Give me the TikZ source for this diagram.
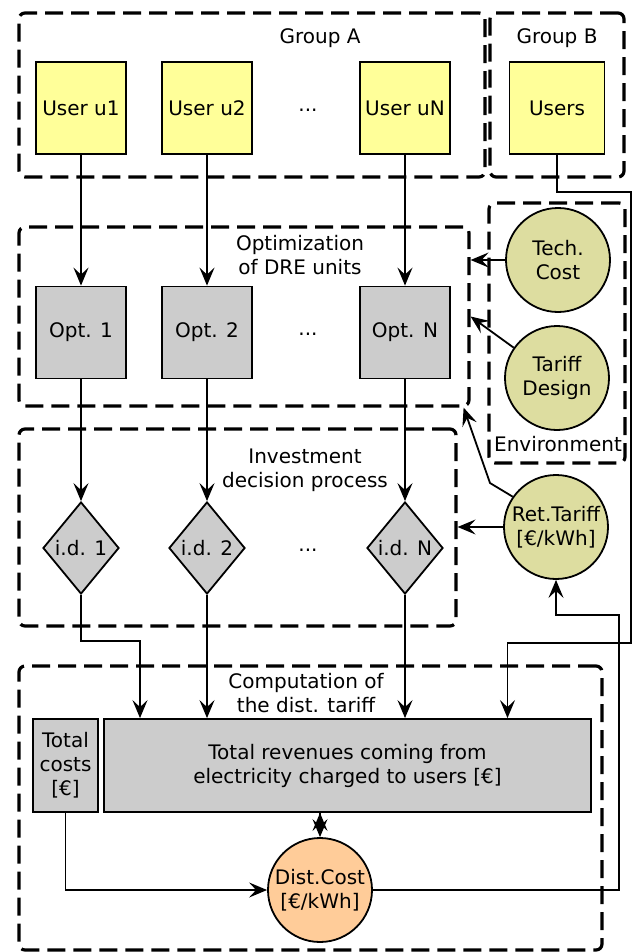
\documentclass[tikz,border=0pt]{standalone}
\usepackage{fontspec}
\setmainfont{DejaVu Sans}
\usetikzlibrary{shapes, arrows.meta, positioning}
\definecolor{useryellow}{RGB}{255,255,153}
\definecolor{optgray}{RGB}{204,204,204}
\definecolor{envolive}{RGB}{221,221,160}
\definecolor{costorange}{RGB}{255,204,153}

\begin{document}
\begin{tikzpicture}[x=1pt, y=-1pt, line width=1.8pt, >={Stealth[length=18pt, width=15pt, inset=7pt]},
        every node/.style={font=\fontsize{20}{24}\selectfont, align=center},
        groupbox/.style={rectangle, draw, line width=3.2pt, dash pattern=on 18pt off 8pt, rounded corners=6pt},
        userbox/.style={rectangle, draw, fill=useryellow, minimum width=90, minimum height=92},
        optbox/.style={rectangle, draw, fill=optgray, minimum width=90, minimum height=92},
        decbox/.style={diamond, draw, fill=optgray, minimum width=76, minimum height=92, inner sep=0pt},
        envcircle/.style={circle, draw, fill=envolive, minimum size=104, inner sep=0pt}]
        \useasboundingbox (0,0) rectangle (634,952);

        % containers
        \node at (252,95) [groupbox, minimum width=466, minimum height=164] (groupA) {};
        \node at (557,95) [groupbox, minimum width=134, minimum height=164] (groupB) {};
        \node at (244,316.5) [groupbox, minimum width=450, minimum height=179] (optarea) {};
        \node at (557,333) [groupbox, minimum width=136, minimum height=260] (envarea) {};
        \node at (237.5,527.5) [groupbox, minimum width=437, minimum height=197] (decarea) {};
        \node at (310.5,808) [groupbox, minimum width=583, minimum height=284] (comparea) {};

        \node at (320,38) (groupA_label) {Group A};
        \node at (557,38) (groupB_label) {Group B};
        \node at (300,255) (optarea_label) {Optimization\\of DRE units};
        \node at (558,444) (envarea_label) {Environment};
        \node at (305,470) (decarea_label) {Investment\\decision process};
        \node at (306,693) (comparea_label) {Computation of\\the dist. tariff};

        % users
        \node at (81,108) [userbox] (user_1) {User u1};
        \node at (207,108) [userbox] (user_2) {User u2};
        \node at (308,110) (user_dots) {...};
        \node at (405,108) [userbox] (user_N) {User uN};
        \node at (557,108) [userbox, minimum width=95] (users) {Users};

        % optimization
        \node at (81,332.5) [optbox] (opt_1) {Opt. 1};
        \node at (207,332.5) [optbox] (opt_2) {Opt. 2};
        \node at (308,334) (opt_dots) {...};
        \node at (405,332.5) [optbox] (opt_N) {Opt. N};

        % investment decisions
        \node at (81,548) [decbox] (dec_1) {i.d. 1};
        \node at (207,548) [decbox] (dec_2) {i.d. 2};
        \node at (308,550) (dec_dots) {...};
        \node at (405,548) [decbox] (dec_N) {i.d. N};

        % environment
        \node at (558,260) [envcircle] (techcost) {Tech.\\Cost};
        \node at (557,378) [envcircle] (tariffdesign) {Tariff\\Design};
        \node at (556,527) [envcircle] (rettariff) {Ret.Tariff\\{[€/kWh]}};

        % computation
        \node at (65.5,765.5) [rectangle, draw, fill=optgray, minimum width=65, minimum height=93, inner sep=1pt] (totcost) {Total\\costs\\{[€]}};
        \node at (347.5,765.5) [rectangle, draw, fill=optgray, minimum width=487, minimum height=93] (revenue) {Total revenues coming from\\electricity charged to users [€]};
        \node at (320,890) [circle, draw, fill=costorange, minimum size=104, inner sep=0pt] (distcost) {Dist.Cost\\{[€/kWh]}};

        \coordinate (dec_bend) at (140,641);
        \coordinate (users_top) at (631,192);
        \coordinate (users_bot) at (631,643);
        \coordinate (dist_bend) at (619,615);
        \coordinate (ret_bend) at (490,483);

        \draw[->]   (user_1) edge (opt_1)
                    (user_2) edge (opt_2)
                    (user_N) edge (opt_N)
                    (opt_1) edge (dec_1)
                    (opt_2) edge (dec_2)
                    (opt_N) edge (dec_N)
                    (techcost) edge (techcost -| optarea.east)
                    (tariffdesign.145) edge (optarea.east)
                    (rettariff) edge (rettariff -| decarea.east)
                    (dec_2.south) edge (dec_2.south |- revenue.north)
                    (dec_N.south) edge (dec_N.south |- revenue.north)
                    (revenue.south -| distcost.north) edge (distcost.north)
            ;
        \draw[->] (dec_1.south) |- (dec_bend) -- (dec_bend |- revenue.north);
        \draw[->] (users.south) |- (users_top) -- (users_bot) -| ([xshift=160pt]revenue.north);
        \draw[->] (totcost.south) |- (distcost.west);
        \draw[->] (distcost.east) -| (dist_bend) -| (rettariff.south);
        \draw[->] (rettariff.145) -- (ret_bend) -- ([xshift=-7pt]optarea.south east);
\end{tikzpicture}
\end{document}
